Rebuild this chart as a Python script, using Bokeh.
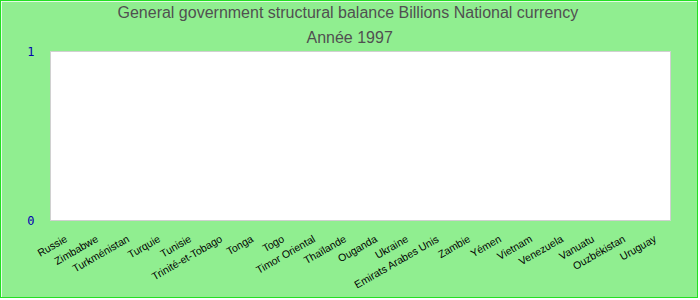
import math
import numpy as np
from bokeh.plotting import figure
from bokeh.models import Title, FixedTicker, ColumnDataSource
from bokeh.embed import file_html
from bokeh.resources import INLINE

countries = ["Russie", "Zimbabwe", "Turkménistan", "Turquie", "Tunisie",
             "Trinité-et-Tobago", "Tonga", "Togo", "Timor Oriental", "Thaïlande",
             "Ouganda", "Ukraine", "Emirats Arabes Unis", "Zambie", "Yémen",
             "Vietnam", "Venezuela", "Vanuatu", "Ouzbékistan", "Uruguay"]
# No data available for 1997 in the reference chart (empty plot)
values = [np.nan, np.nan, np.nan, np.nan, np.nan,
          np.nan, np.nan, np.nan, np.nan, np.nan,
          np.nan, np.nan, np.nan, np.nan, np.nan,
          np.nan, np.nan, np.nan, np.nan, np.nan]
y_ticks = [0, 1]
title_line1 = "General government structural balance Billions National currency"
title_line2 = "Année 1997"

src = ColumnDataSource(dict(x=countries, top=values))

p = figure(width=698, height=298, x_range=countries, y_range=(0, 1),
           output_backend="svg", toolbar_location=None,
           min_border_left=49, min_border_right=29, min_border_bottom=79, min_border_top=10)
p.styles = {"border": "1px solid #22e022"}
p.background_fill_color = "white"
p.border_fill_color = "#90EE90"
p.outline_line_color = "#d0d0d0"
p.outline_line_width = 1

p.vbar(x="x", top="top", bottom=0, width=0.8, source=src, color="#4477aa")

p.add_layout(Title(text=title_line2, align="left", text_font="Liberation Sans",
                   text_font_size="16px", text_font_style="normal", text_color="#505050",
                   standoff=12, offset=256), "above")
p.add_layout(Title(text=title_line1, align="left", text_font="Liberation Sans",
                   text_font_size="16px", text_font_style="normal", text_color="#505050",
                   standoff=0, offset=67), "above")

p.xgrid.visible = False
p.ygrid.visible = False

p.yaxis.ticker = FixedTicker(ticks=y_ticks)
p.yaxis.axis_line_color = None
p.yaxis.major_tick_line_color = None
p.yaxis.minor_tick_line_color = None
p.yaxis.major_label_text_color = "#0000b0"
p.yaxis.major_label_text_font = "DejaVu Sans Mono"
p.yaxis.major_label_text_font_size = "12px"
p.yaxis.major_label_standoff = 10

p.xaxis.axis_line_color = None
p.xaxis.major_tick_line_color = None
p.xaxis.minor_tick_line_color = None
p.xaxis.major_label_orientation = math.pi / 6
p.xaxis.major_label_text_font = "Liberation Sans"
p.xaxis.major_label_text_font_size = "10.5px"
p.xaxis.major_label_text_color = "black"
p.xaxis.major_label_standoff = 11

open("out.html", "w").write(file_html(p, INLINE))
